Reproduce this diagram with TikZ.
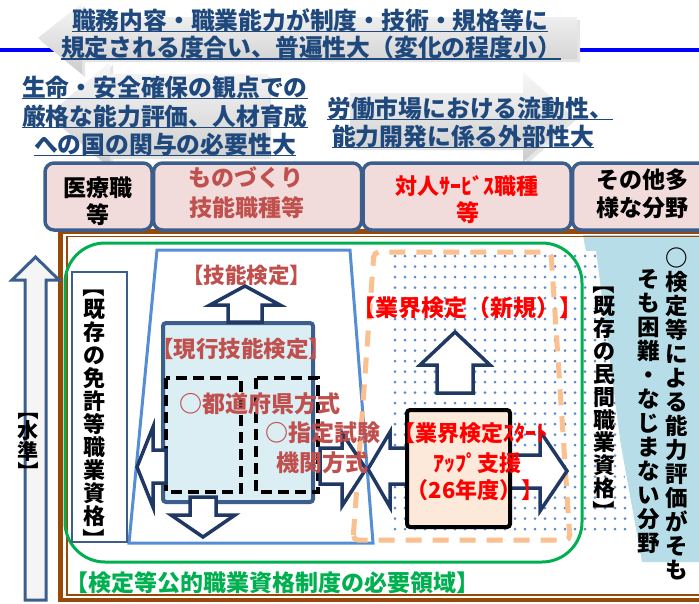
\documentclass[tikz,border=0pt]{standalone}
\usepackage{fontspec}
\usepackage{graphicx}
\newfontfamily\jp{Noto Sans CJK JP}
\definecolor{ttlc}{HTML}{1F497D}
\definecolor{bgray}{HTML}{3B5E8C}
\definecolor{navy}{HTML}{1F3864}
\definecolor{pinkf}{HTML}{F2DCDB}
\definecolor{rbrown}{HTML}{C0504D}
\definecolor{lblue}{HTML}{DBEEF4}
\definecolor{rblue}{HTML}{B7DEE8}
\definecolor{peach}{HTML}{FDE9D9}
\definecolor{orng}{HTML}{FAC090}
\definecolor{grn}{HTML}{00B050}
\definecolor{brn}{HTML}{984807}
\definecolor{tblue}{HTML}{558ED5}
\definecolor{dotc}{HTML}{5B8BCB}
\newcommand\fsz[1]{\fontsize{#1}{#1}\selectfont}
\newcommand\vbr[1]{\rotatebox[origin=c]{-90}{#1}}
\begin{document}
\begin{tikzpicture}[x=1pt,y=-1pt,
  ttl/.style={inner sep=0, anchor=base, text=ttlc, font=\jp\bfseries\fsz{23.8}},
  ul/.style={draw=ttlc, line width=1.5pt},
  cat/.style={draw=bgray, line width=3.5pt, fill=pinkf, rounded corners=9pt},
  lbl/.style={inner sep=0, font=\jp\bfseries\fsz{23}},
  vt/.style={inner sep=0, align=center},
  blk/.style={draw=navy, line width=3.5pt, fill=white, line join=miter},
  garrow/.style={top color=gray!6, bottom color=gray!40, draw=none},
  gshadow/.style={fill=black!10, draw=none}]
\useasboundingbox (0,0) rectangle (699,603);
\clip (0,0) rectangle (699,603);
\fill[white] (0,0) rectangle (699,603);

% blue line
\draw[blue, line width=4pt] (0,50) -- (699,50);

% gray background arrows
\fill[gshadow] (41,41) -- (85,6) -- (85,20) -- (580,20) -- (580,62) -- (85,62) -- (85,77) -- cycle;
\shade[garrow] (38,38) -- (82,3) -- (82,17) -- (577,17) -- (577,59) -- (82,59) -- (82,74) -- cycle;
\fill[gshadow] (51,118) -- (113,65) -- (113,77) -- (271,77) -- (271,159) -- (113,159) -- (113,171) -- cycle;
\shade[garrow] (48,115) -- (110,62) -- (110,74) -- (268,74) -- (268,156) -- (110,156) -- (110,168) -- cycle;
\fill[gshadow] (353,96) -- (526,96) -- (526,75) -- (576,120) -- (526,165) -- (526,150) -- (353,150) -- cycle;
\shade[garrow] (350,93) -- (523,93) -- (523,72) -- (573,117) -- (523,162) -- (523,147) -- (350,147) -- cycle;

% titles
\node[ttl] (t1a) at (310,29) {職務内容・職業能力が制度・技術・規格等に};
\node[ttl] (t1b) at (311,56.5) {規定される度合い、普遍性大（変化の程度小）};
\node[ttl] (t2a) at (165,96) {生命・安全確保の観点での};
\node[ttl] (t2b) at (165,125) {厳格な能力評価、人材育成};
\node[ttl] (t2c) at (165,153) {への国の関与の必要性大};
\node[ttl] (t3a) at (470,117) {労働市場における流動性、};
\node[ttl] (t3b) at (463,145) {能力開発に係る外部性大};
\foreach \n in {t1a,t1b,t2a,t2b,t2c,t3a,t3b}
  \draw[ul] ([yshift=-2.5pt]\n.base west) -- ([yshift=-2.5pt]\n.base east);

% right light blue region
\fill[rblue] (583,235) -- (710,235) -- (710,562) -- (642,562) -- cycle;

% brown frame
\draw[brn, line width=4.5pt] (60.5,231.5) rectangle (720,600);
\draw[brn, line width=1.5pt] (67,236.5) rectangle (720,595);

% category boxes
\draw[cat] (45,163) rectangle (152,230);
\draw[cat] (153.5,163) rectangle (361.5,230);
\draw[cat] (363,163) rectangle (571,230);
\draw[cat] (572.5,163) rectangle (725,230);
\node[lbl, text=black] (c1a) at (98,188) {医療職};
\node[lbl, text=black] (c1b) at (98,215) {等};
\node[lbl, text=rbrown] (c2a) at (246,178) {ものづくり};
\node[lbl, text=rbrown] (c2b) at (247,208) {技能職種等};
\node[lbl, text=red, font=\jp\bfseries\fsz{22}] (c3a) at (467,186) {対人ｻｰﾋﾞｽ職種};
\node[lbl, text=red] (c3b) at (468,213) {等};
\node[lbl, text=black] (c4a) at (642,180) {その他多};
\node[lbl, text=black] (c4b) at (642,208) {様な分野};

% dotted region
\fill[white] (391,251) -- (596,251) -- (632,534) -- (391,534) -- cycle;
\begin{scope}
  \clip (391,251) -- (596,251) -- (632,534) -- (391,534) -- cycle;
  \foreach \x in {395,405,...,645}
    \foreach \y in {256,266.5,...,540}
      \fill[dotc] (\x,\y) circle (1.5);
\end{scope}

% blue trapezoid
\draw[tblue, line width=3pt, fill=white] (157,250) -- (350,250) -- (373,543) -- (129,543) -- cycle;

% orange dashed area
\draw[orng, line width=5pt, dash pattern=on 16pt off 11pt, rounded corners=5pt]
  (353,540) -- (374,252) -- (551,252) -- (570,540) -- cycle;

% green area
\draw[grn, line width=3pt, rounded corners=40pt] (65,243) rectangle (582,562);

% existing licence box
\draw[bgray, line width=2.5pt, fill=white] (72,272) rectangle (127,542);

% left level arrow
\draw[bgray, line width=3pt, fill=gray!8, line join=miter]
  (35.5,257) -- (59,280) -- (46,280) -- (46,600) -- (25,600) -- (25,280) -- (12,280) -- cycle;

% current skill test box
\draw[bgray, line width=4pt, fill=lblue, rounded corners=3pt] (163,323) rectangle (313,502);
\draw[black, line width=4pt, dash pattern=on 11pt off 6pt] (166,378) rectangle (241,492);
\draw[black, line width=4pt, dash pattern=on 11pt off 6pt] (256,378) rectangle (318,492);

% block arrows
\draw[blk] (245,286) -- (280,305) -- (262,305) -- (262,322) -- (228,322) -- (228,305) -- (210,305) -- cycle;
\draw[blk] (137,467) -- (153,427) -- (153,450) -- (166,450) -- (166,483) -- (153,483) -- (153,507) -- cycle;
\draw[blk] (190,497) -- (216,497) -- (216,515) -- (235,515) -- (203,537) -- (171,515) -- (190,515) -- cycle;
\draw[blk] (320,448) -- (342,448) -- (342,433) -- (366,469) -- (342,506) -- (342,484) -- (320,484) -- cycle;
\draw[blk] (408,448) -- (390,448) -- (390,432) -- (368,469) -- (390,507) -- (390,484) -- (408,484) -- cycle;
\draw[blk] (510,455) -- (540,455) -- (540,431) -- (567,471) -- (540,511) -- (540,488) -- (510,488) -- cycle;
\draw[blk] (455,332) -- (490,365) -- (473,365) -- (473,393) -- (437,393) -- (437,365) -- (420,365) -- cycle;

% startup box
\draw[black, line width=4pt, fill=peach, rounded corners=3pt] (407,410) rectangle (510,527);

% texts
\node[lbl, text=rbrown, font=\jp\bfseries\fsz{21.5}] (gk) at (246.5,275) {【技能検定】};
\node[lbl, text=rbrown, font=\jp\bfseries\fsz{22.5}] (gen) at (241,349) {【現行技能検定】};
\node[lbl, text=rbrown] (tdf) at (260,404) {○都道府県方式};
\node[lbl, text=rbrown] (sts1) at (323,433) {○指定試験};
\node[lbl, text=rbrown] (sts2) at (322,463) {機関方式};
\node[lbl, text=red] (gyk) at (467,308) {【業界検定（新規）】};
\node[lbl, text=red, font=\jp\bfseries\fsz{22}] (su1) at (470,433) {【業界検定ｽﾀｰﾄ};
\node[lbl, text=red, font=\jp\bfseries\fsz{22}] (su2) at (477,463) {ｱｯﾌﾟ支援};
\node[lbl, text=red, font=\jp\bfseries\fsz{22}] (su3) at (475,490) {（26年度）】};
\node[lbl, text=grn] (need) at (272,583) {【検定等公的職業資格制度の必要領域】};

% vertical texts
\node[vt, font=\jp\bfseries\fontsize{21}{20.5}\selectfont] (lv) at (28,441)
  {\vbr{【}\\水\\準\\\vbr{】}};
\node[vt, font=\jp\bfseries\fontsize{22}{23}\selectfont] (lic) at (94,413)
  {\vbr{【}\\既\\存\\の\\免\\許\\等\\職\\業\\資\\格\\\vbr{】}};
\node[vt, font=\jp\bfseries\fontsize{22}{22.8}\selectfont] (priv) at (604,397)
  {\vbr{【}\\既\\存\\の\\民\\間\\職\\業\\資\\格\\\vbr{】}};
\node[vt, font=\jp\bfseries\fontsize{22.5}{24}\selectfont] (rc1) at (677,413.5)
  {○\\検\\定\\等\\に\\よ\\る\\能\\力\\評\\価\\が\\そ\\も};
\node[vt, font=\jp\bfseries\fontsize{22.5}{24}\selectfont] (rc2) at (649,411.5)
  {そ\\も\\困\\難\\・\\な\\じ\\ま\\な\\い\\分\\野};
\end{tikzpicture}
\end{document}
